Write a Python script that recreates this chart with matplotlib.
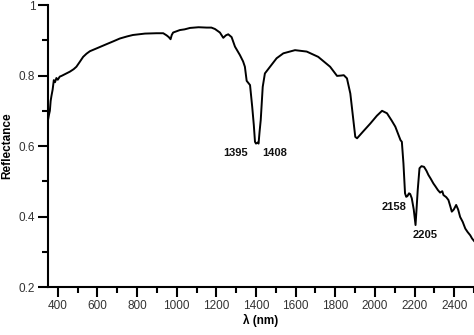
import matplotlib
matplotlib.use("Agg")
import matplotlib.pyplot as plt
from matplotlib.ticker import MultipleLocator

plt.rcParams['font.family'] = ['Liberation Sans', 'DejaVu Sans']

# spectrum
wavelength = [350, 356, 360, 364, 368, 374, 380, 386, 393, 400, 410, 419, 440, 461, 480,
              494, 510, 528, 545, 562, 600, 646, 680, 713, 750, 779, 840, 898, 932,
              949, 960, 969, 975, 982, 1016, 1040, 1067, 1110, 1151, 1175, 1193, 1218,
              1235, 1248, 1260, 1277, 1294, 1319, 1335, 1344, 1353, 1370, 1381, 1389,
              1395, 1400, 1408, 1413, 1418, 1424, 1434, 1445, 1471, 1504, 1538, 1597,
              1656, 1714, 1774, 1809, 1830, 1843, 1859, 1876, 1890, 1901, 1910, 1940,
              1977, 2010, 2036, 2061, 2085, 2103, 2129, 2136, 2144, 2152, 2158, 2164,
              2172, 2178, 2186, 2196, 2205, 2210, 2216, 2225, 2235, 2248, 2260, 2270,
              2282, 2295, 2305, 2318, 2329, 2340, 2346, 2360, 2371, 2380, 2388, 2398,
              2410, 2420, 2430, 2443, 2456, 2468, 2481, 2490, 2500]
reflectance = [0.672, 0.690, 0.700, 0.728, 0.742, 0.760, 0.787, 0.781, 0.793, 0.788, 0.797,
               0.799, 0.805, 0.811, 0.818, 0.825, 0.838, 0.853, 0.862, 0.869, 0.878,
               0.889, 0.897, 0.905, 0.911, 0.915, 0.919, 0.920, 0.920, 0.914, 0.909,
               0.903, 0.915, 0.922, 0.929, 0.931, 0.935, 0.937, 0.936, 0.936, 0.932,
               0.922, 0.907, 0.914, 0.917, 0.909, 0.882, 0.858, 0.840, 0.825, 0.785,
               0.773, 0.711, 0.660, 0.612, 0.607, 0.610, 0.607, 0.640, 0.674, 0.768,
               0.806, 0.825, 0.849, 0.863, 0.872, 0.868, 0.853, 0.825, 0.799, 0.800,
               0.801, 0.792, 0.749, 0.680, 0.626, 0.622, 0.641, 0.664, 0.686, 0.700,
               0.693, 0.672, 0.655, 0.617, 0.612, 0.551, 0.466, 0.456, 0.458, 0.466,
               0.464, 0.452, 0.420, 0.376, 0.420, 0.475, 0.537, 0.543, 0.541, 0.530,
               0.518, 0.507, 0.494, 0.486, 0.475, 0.468, 0.472, 0.461, 0.455, 0.447,
               0.430, 0.414, 0.420, 0.433, 0.420, 0.399, 0.385, 0.366, 0.356, 0.347,
               0.338, 0.331]

peak_labels = ['1395', '1408', '2158', '2205']
peak_x = [1299, 1496, 2097, 2253]
peak_y = [0.580, 0.580, 0.427, 0.347]

fig = plt.figure(figsize=(4.74, 3.35), dpi=100)
ax = fig.add_axes([0.101, 0.143, 0.899, 0.842])
ax.plot(wavelength, reflectance, color='black', lw=1.4)

for t, x, y in zip(peak_labels, peak_x, peak_y):
    ax.text(x, y, t, ha='center', va='center', fontsize=8, fontweight='bold', color='#111')

ax.set_xlim(350, 2500)
ax.set_ylim(0.2, 1.0)
ax.xaxis.set_major_locator(MultipleLocator(200))
ax.xaxis.set_minor_locator(MultipleLocator(100))
ax.yaxis.set_major_locator(MultipleLocator(0.2))
ax.yaxis.set_minor_locator(MultipleLocator(0.1))
ax.set_xticks(range(400, 2401, 200))
ax.set_yticks([0.2, 0.4, 0.6, 0.8, 1.0])
ax.set_yticklabels(['0.2', '0.4', '0.6', '0.8', '1'])

for s in ['top', 'right']:
    ax.spines[s].set_visible(False)
for s in ['left', 'bottom']:
    ax.spines[s].set_linewidth(1.5)

ax.tick_params(which='major', direction='out', length=7, width=1.5, labelsize=8.5,
               labelcolor='#333', pad=2)
ax.tick_params(which='minor', direction='out', length=4, width=1.5)

ax.set_xlabel('λ (nm)', fontsize=8.5, fontweight='bold', labelpad=2)
ax.set_ylabel('Reflectance', fontsize=8.5, fontweight='bold', labelpad=4)

fig.savefig('out.png', dpi=100)
